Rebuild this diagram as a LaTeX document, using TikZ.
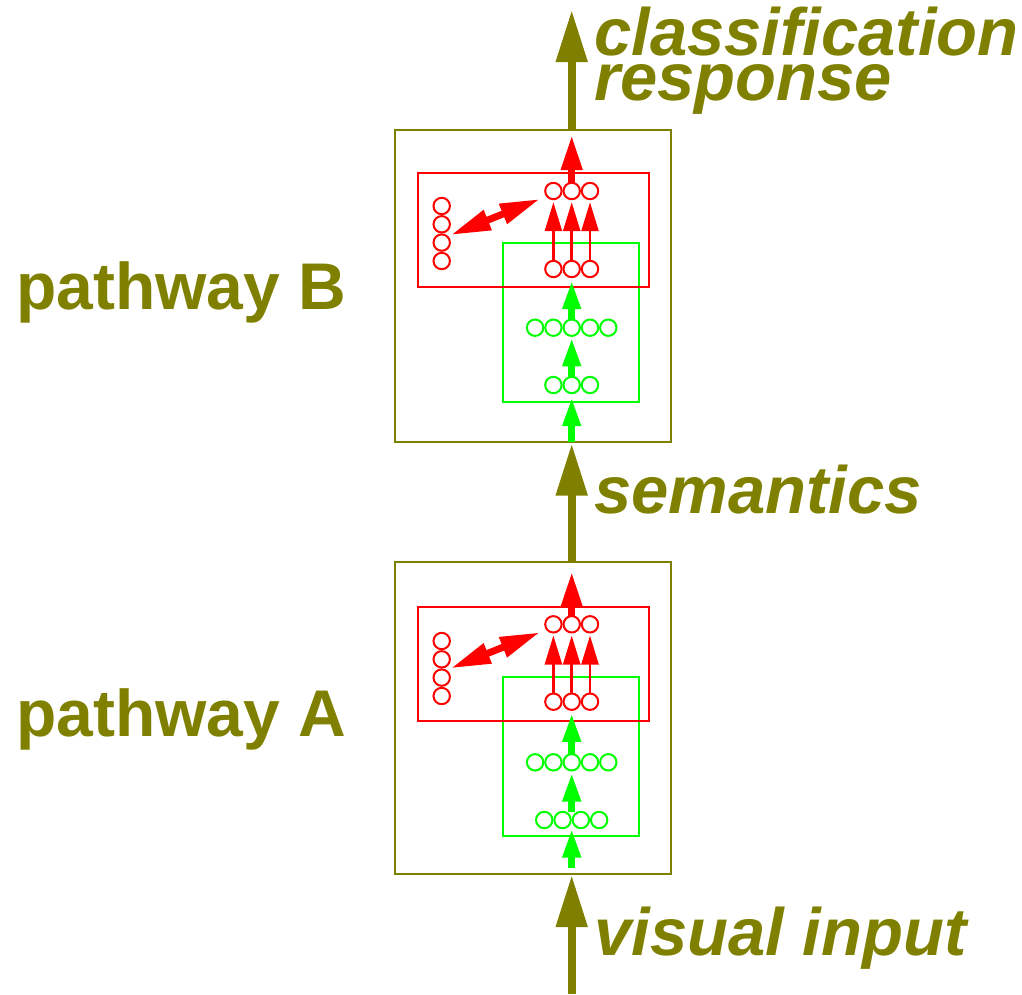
\documentclass[tikz,border=0pt]{standalone}
\usepackage{fontspec}
\setmainfont{Liberation Sans}
\usetikzlibrary{arrows.meta}
\definecolor{olv}{RGB}{128,128,0}
\definecolor{rd}{RGB}{255,0,0}
\definecolor{gn}{RGB}{0,255,0}
\begin{document}
\begin{tikzpicture}[x=1pt,y=-1pt,
  frame/.style={draw=olv, line width=2pt, minimum width=276pt, minimum height=312pt, inner sep=0pt, outer sep=0pt},
  redbox/.style={draw=rd, line width=2pt},
  grnbox/.style={draw=gn, line width=2pt},
  rc/.style={circle, draw=rd, line width=2pt, minimum size=16.4pt, inner sep=0pt, outer sep=0pt},
  gc/.style={circle, draw=gn, line width=2pt, minimum size=16.4pt, inner sep=0pt, outer sep=0pt},
  bigarrow/.style={draw=olv, line width=8pt, -{Triangle[length=52pt,width=30pt]}},
  redup/.style={draw=rd, fill=rd, line width=7pt, -{Triangle[length=35pt,width=20pt]}},
  redthin/.style={draw=rd, fill=rd, line width=2.5pt, -{Triangle[length=29pt,width=17pt]}},
  redboth/.style={draw=rd, fill=rd, line width=7pt, {Triangle[length=40pt,width=20pt]}-{Triangle[length=40pt,width=20pt]}},
  grnup/.style={draw=gn, fill=gn, line width=7pt, -{Triangle[length=29pt,width=17pt]}},
  lbl/.style={text=olv, font=\fontsize{66}{66}\selectfont\bfseries, inner sep=0pt, anchor=base west},
  ilbl/.style={text=olv, font=\fontsize{67}{67}\selectfont\bfseries\itshape, inner sep=0pt, anchor=base west}
]
\useasboundingbox (0,0) rectangle (1022,994);

% ---------- outer frames ----------
\node[frame] (boxB) at (533,285.5) {};
\node[frame] (boxA) at (533,718) {};

% ---------- pathway B internals ----------
\draw[grnbox] (503,243) rectangle (639,402);
\draw[redbox] (418,173) rectangle (649,287);
\foreach \i/\x in {1/553.4,2/571.7,3/590}{
  \node[rc] (Brt\i) at (\x,191) {};
  \node[rc] (Brb\i) at (\x,269) {};
  \node[gc] (Bg3\i) at (\x,385) {};
}
\foreach \i/\x in {1/535.1,2/553.4,3/571.7,4/590,5/608.3}{
  \node[gc] (Bg5\i) at (\x,327.7) {};
}
\foreach \i/\y in {1/206,2/224.3,3/242.6,4/261}{
  \node[rc] (Blc\i) at (441.7,\y) {};
}
\coordinate (BredTip) at (571.7,135);
\coordinate (BdL) at (450.7,235);
\coordinate (BdR) at (540,199);
\draw[redup] (Brt2.north) -- (BredTip);
\foreach \i in {1,2,3}{\draw[redthin, shorten >=3pt] (Brb\i.north) -- (Brt\i.south);}
\draw[redboth] (BdL) -- (BdR);
\draw[grnup, shorten >=3pt] (Bg53.north) -- (Brb2.south);
\draw[grnup, shorten >=1.5pt] (Bg32.north) -- (Bg53.south);
\draw[grnup, shorten >=4pt] (boxB.south -| Bg32) -- (Bg32.south);

% ---------- pathway A internals ----------
\draw[grnbox] (503,677) rectangle (639,836);
\draw[redbox] (418,607) rectangle (649,721);
\foreach \i/\x in {1/553.4,2/571.7,3/590}{
  \node[rc] (Art\i) at (\x,624.3) {};
  \node[rc] (Arb\i) at (\x,701.7) {};
}
\foreach \i/\x in {1/535.1,2/553.4,3/571.7,4/590,5/608.3}{
  \node[gc] (Ag5\i) at (\x,762.3) {};
}
\foreach \i/\x in {1/544.25,2/562.55,3/580.85,4/599.15}{
  \node[gc] (Ag4\i) at (\x,820) {};
}
\foreach \i/\y in {1/641,2/659.3,3/677.6,4/696}{
  \node[rc] (Alc\i) at (441.7,\y) {};
}
\coordinate (AredTip) at (571.7,571.7);
\coordinate (AdL) at (450.7,668.3);
\coordinate (AdR) at (540,632.3);
\coordinate (Ag4top) at (571.7,812);
\coordinate (Ag4bot) at (571.7,828.5);
\coordinate (Agin) at (571.7,868);
\draw[redup] (Art2.north) -- (AredTip);
\foreach \i in {1,2,3}{\draw[redthin, shorten >=3pt] (Arb\i.north) -- (Art\i.south);}
\draw[redboth] (AdL) -- (AdR);
\draw[grnup, shorten >=3pt] (Ag53.north) -- (Arb2.south);
\draw[grnup, shorten >=2pt] (Ag4top) -- (Ag53.south);
\draw[grnup] (Agin) -- (Ag4bot);

% ---------- olive flow arrows ----------
\coordinate (vin) at (571.7,994);
\coordinate (out) at (571.7,10);
\draw[bigarrow, shorten >=1pt] (vin) -- (boxA.south -| Art2);
\draw[bigarrow, shorten >=2pt] (boxA.north -| Art2) -- (boxB.south -| Brt2);
\draw[bigarrow] (boxB.north -| Brt2) -- (out);

% ---------- labels ----------
\node[lbl] (labB) at (16,309.3) {pathway B};
\node[lbl] (labA) at (16,736.7) {pathway A};
\node[ilbl] (cls) at (594,55) {classification};
\node[ilbl] (resp) at (594,100) {response};
\node[ilbl] (sem) at (594,513.3) {semantics};
\node[ilbl] (vis) at (594,955) {visual input};
\end{tikzpicture}
\end{document}
